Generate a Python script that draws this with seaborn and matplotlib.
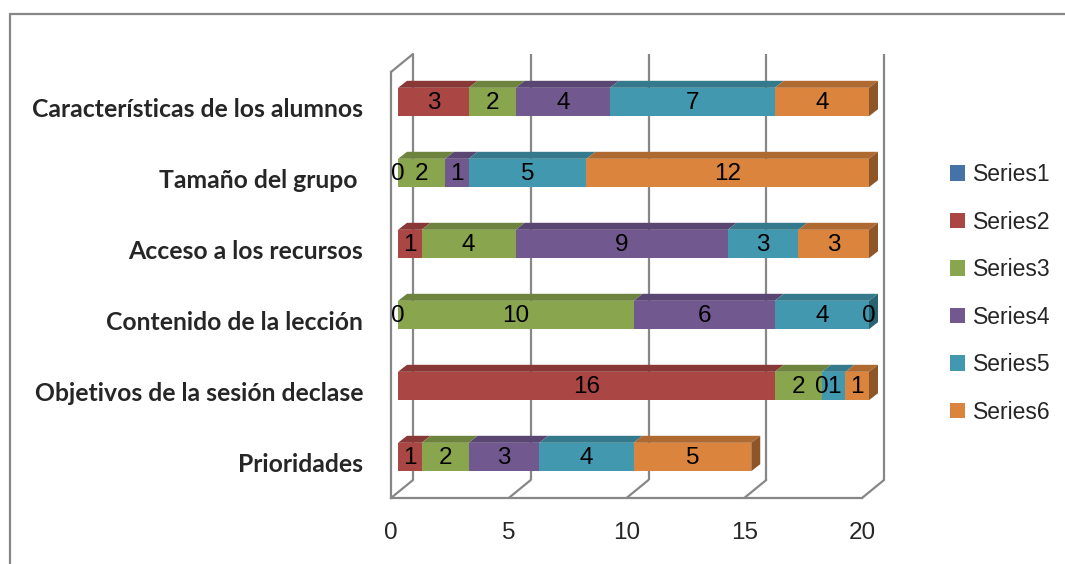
import numpy as np
import pandas as pd
import seaborn as sns
import matplotlib.pyplot as plt
from matplotlib.patches import Polygon, Patch
from matplotlib.lines import Line2D
from matplotlib.transforms import ScaledTranslation
from matplotlib.colors import to_rgb

# categories listed top to bottom, as in the chart
categories = ["Características de los alumnos", "Tamaño del grupo ", "Acceso a los recursos",
              "Contenido de la lección", "Objetivos de la sesión declase", "Prioridades"]
series_names = ["Series1", "Series2", "Series3", "Series4", "Series5", "Series6"]
series1 = [np.nan, np.nan, np.nan, np.nan, np.nan, np.nan]
series2 = [3, 0, 1, 0, 16, 1]
series3 = [2, 2, 4, 10, 2, 2]
series4 = [4, 1, 9, 6, 0, 3]
series5 = [7, 5, 3, 4, 1, 4]
series6 = [4, 12, 3, 0, 1, 5]
x_ticks = [0, 5, 10, 15, 20]
colors = ["#4572A7", "#AA4643", "#89A54E", "#71588F", "#4198AF", "#DB843D"]

GRAY = "#878787"
W, H = 1065, 564

df = pd.DataFrame({"categoria": categories, "Series1": series1, "Series2": series2,
                   "Series3": series3, "Series4": series4, "Series5": series5,
                   "Series6": series6})
cum = df[series_names].fillna(0).cumsum(axis=1)
start = cum - df[series_names].fillna(0)

sns.set_style("white")
plt.rcParams['font.family'] = ['Liberation Sans', 'DejaVu Sans']

fig = plt.figure(figsize=(W / 100, H / 100), dpi=100)
ax = fig.add_axes([391 / W, 1 - 498 / H, 471 / W, 426 / H])

bar_h = 0.40
# fake depth: bars sit a little behind the front plane, gridlines on the back wall
bar_off = ScaledTranslation(0.07, 0.055, fig.dpi_scale_trans)
back_off = ScaledTranslation(0.22, 0.18, fig.dpi_scale_trans)
ux = 23.55   # px per x unit
uy = 71.0    # px per category
depth_x, depth_y = 9 / ux, 7 / uy
back_x, back_y = 22 / ux, 18 / uy

# stacked bars: cumulative totals drawn from the last series back to the first
for name, color in reversed(list(zip(series_names, colors))):
    if df[name].isna().all():
        continue
    sns.barplot(x=cum[name], y=df["categoria"], color=color, saturation=1,
                orient="h", width=bar_h, errorbar=None, linewidth=0, ax=ax, zorder=3)

for p in ax.patches:
    p.set_transform(ax.transData + bar_off)
    p.set_clip_on(False)

# top and side faces of each segment
for i in range(len(categories)):
    yt = i - bar_h / 2
    yb = i + bar_h / 2
    last = None
    for name, color in zip(series_names, colors):
        v = df[name].iloc[i]
        if pd.isna(v) or v == 0:
            continue
        a, b = start[name].iloc[i], cum[name].iloc[i]
        top_c = tuple(c * 0.8 for c in to_rgb(color))
        ax.add_patch(Polygon([(a, yt), (b, yt), (b + depth_x, yt - depth_y), (a + depth_x, yt - depth_y)],
                             closed=True, facecolor=top_c, edgecolor="none",
                             transform=ax.transData + bar_off, clip_on=False, zorder=3))
        last = (b, color)
    if last is not None:
        b, color = last
        side_c = tuple(c * 0.65 for c in to_rgb(color))
        ax.add_patch(Polygon([(b, yt), (b + depth_x, yt - depth_y), (b + depth_x, yb - depth_y), (b, yb)],
                             closed=True, facecolor=side_c, edgecolor="none",
                             transform=ax.transData + bar_off, clip_on=False, zorder=3))

# data labels
for i in range(len(categories)):
    for name in series_names[1:]:
        v = df[name].iloc[i]
        if pd.isna(v):
            continue
        xc = (start[name].iloc[i] + cum[name].iloc[i]) / 2
        ax.text(xc, i + 0.02, f"{int(v)}", ha="center", va="center", fontsize=17.5,
                color="black", transform=ax.transData + bar_off, zorder=5, clip_on=False)

# back wall gridlines and floor diagonals
ax.vlines(x_ticks, -0.5, 5.5, colors=GRAY, linewidth=1.6,
          transform=ax.transData + back_off, clip_on=False, zorder=1)
for x in x_ticks:
    ax.plot([x, x + back_x], [5.5, 5.5 - back_y], color=GRAY, lw=1.6, clip_on=False, zorder=1)
ax.plot([0, back_x], [-0.5, -0.5 - back_y], color=GRAY, lw=1.6, clip_on=False, zorder=1)

ax.set_xlim(0, 20)
ax.set_ylim(5.5, -0.5)
ax.set_xticks(x_ticks)
ax.set_xticklabels([str(t) for t in x_ticks], fontsize=17.5)
ax.set_yticks(range(len(categories)))
ax.set_yticklabels(categories, fontsize=17.8, fontweight="bold", family=["Lato", "DejaVu Sans"])
ax.set_yticks(np.arange(-0.5, 6, 1), minor=True)
ax.tick_params(axis="y", which="major", length=0, pad=20)
ax.tick_params(axis="y", which="minor", length=5, width=1.6, color=GRAY, direction="out")
ax.tick_params(axis="x", length=6, width=1.6, color=GRAY, direction="out", pad=11)
ax.set_xlabel("")
ax.set_ylabel("")
ax.patch.set_visible(False)
for s in ["top", "right"]:
    ax.spines[s].set_visible(False)
for s in ["left", "bottom"]:
    ax.spines[s].set_color(GRAY)
    ax.spines[s].set_linewidth(1.6)

handles = [Patch(facecolor=c, edgecolor="none", label=n) for n, c in zip(series_names, colors)]
fig.legend(handles=handles, loc="upper left", bbox_to_anchor=(950 / W, 1 - 163 / H),
           frameon=False, fontsize=16.5, handlelength=0.65, handleheight=0.65,
           handletextpad=0.35, labelspacing=1.07, borderaxespad=0, borderpad=0)

# chart border
fig.add_artist(Line2D([10 / W, 10 / W], [0, 1 - 14 / H], color=GRAY, lw=1.6, transform=fig.transFigure))
fig.add_artist(Line2D([10 / W, 1], [1 - 14 / H, 1 - 14 / H], color=GRAY, lw=1.6, transform=fig.transFigure))

fig.savefig("out.png", dpi=100)
